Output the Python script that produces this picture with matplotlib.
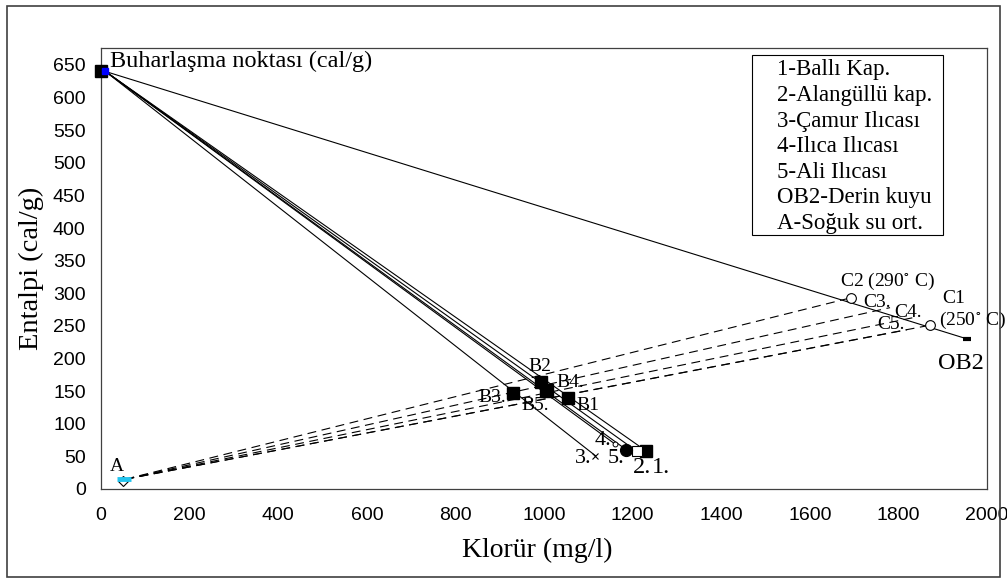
import matplotlib
matplotlib.use('Agg')
import matplotlib.pyplot as plt
from matplotlib.patches import Rectangle

plt.rcParams['mathtext.fontset'] = 'stix'

# evaporation point (cal/g) and the two end members
evap_x, evap_y = 10, 640
ob2_x, ob2_y = 1955, 230
a_x, a_y = 50, 13

# springs 1..5
spring_names = ['1', '2', '3', '4', '5']
spring_x = [1231, 1209, 1116, 1160, 1186]
spring_y = [58, 58, 51, 69, 60]

# intersection points B1..B5
b_names = ['B1', 'B2', 'B3', 'B4', 'B5']
b_x = [1053, 994, 929, 1006, 1004]
b_y = [140, 164, 147, 152, 150]

# reservoir points C1..C5 on the evaporation-OB2 line
c_names = ['C1', 'C2', 'C3', 'C4', 'C5']
c_x = [1871, 1692, 1781, 1843, 1819]
c_y = [251, 293, 278, 264, 244]

legend_lines = ['1-Ballı Kap.', '2-Alangüllü kap.', '3-Çamur Ilıcası',
                '4-Ilıca Ilıcası', '5-Ali Ilıcası', 'OB2-Derin kuyu',
                'A-Soğuk su ort.']

serif = 'Liberation Serif'
sans = 'Liberation Sans'

fig = plt.figure(figsize=(10.07, 5.78), dpi=100)
ax = fig.add_axes([0.1003, 0.154, 0.8799, 0.763])

# solid mixing lines from the evaporation point
for sx, sy in zip(spring_x, spring_y):
    ax.plot([evap_x, sx], [evap_y, sy], color='black', lw=0.8, zorder=2)
ax.plot([evap_x, ob2_x], [evap_y, ob2_y], color='black', lw=0.8, zorder=2)

# dashed lines from cold water through B points to C points
for cx, cy in zip(c_x, c_y):
    ax.plot([a_x + 5, cx], [a_y + 2, cy], color='black', lw=0.8,
            dashes=(8, 5), zorder=2)

# markers
ax.plot(evap_x - 10, evap_y, marker='s', ms=9, color='black', ls='none',
        zorder=4, clip_on=False)
ax.plot(evap_x, evap_y, marker='s', ms=4.2, color='#0000ff', mec='#0000ff',
        ls='none', zorder=5)
ax.plot(ob2_x, ob2_y, marker='_', ms=6, mew=3, color='black', ls='none', zorder=4)
ax.plot(a_x, a_y, marker='D', ms=5, mfc='white', mec='black', mew=0.8,
        ls='none', zorder=4)
ax.plot(a_x + 3, a_y + 2, marker='_', ms=10, mew=3.5, color='#22c4ee',
        ls='none', zorder=5)
ax.plot(b_x, b_y, marker='s', ms=8.5, color='black', ls='none', zorder=4)
ax.plot(c_x[:2], c_y[:2], marker='o', ms=7, mfc='white', mec='black', mew=0.8,
        ls='none', zorder=4)

# springs with their own markers
ax.plot(spring_x[0], spring_y[0], marker='s', ms=8.5, color='black', ls='none', zorder=4)
ax.plot(spring_x[1], spring_y[1], marker='s', ms=7.5, mfc='white', mec='black',
        mew=0.8, ls='none', zorder=4)
ax.plot(spring_x[2], spring_y[2], marker='x', ms=4.5, color='black', mew=0.8,
        ls='none', zorder=4)
ax.plot(spring_x[3], spring_y[3], marker='o', ms=3.5, mfc='white', mec='black',
        mew=0.7, ls='none', zorder=4)
ax.plot(spring_x[4], spring_y[4], marker='o', ms=8.5, color='black', ls='none', zorder=4)

# point labels
lab = dict(family=serif, fontsize=14, ha='center', va='center', zorder=6)
ax.text(20, 655, 'Buharlaşma noktası (cal/g)', family=serif, fontsize=17.5,
        ha='left', va='center')
ax.text(36, 34, 'A', **lab)
ax.text(990, 188, 'B2', **lab)
ax.text(1058, 163, 'B4.', **lab)
ax.text(884, 141, 'B3.', **lab)
ax.text(981, 128, 'B5.', **lab)
ax.text(1098, 128, 'B1', **lab)
ax.text(1132, 75, '4.', family=serif, fontsize=16, ha='center', va='center')
ax.text(1089, 47, '3.', family=serif, fontsize=16, ha='center', va='center')
ax.text(1162, 47, '5.', family=serif, fontsize=16, ha='center', va='center')
ax.text(1222, 33, '2.', family=serif, fontsize=17.5, ha='center', va='center')
ax.text(1264, 33, '1.', family=serif, fontsize=17.5, ha='center', va='center')
ax.text(1776, 318, 'C2 (290$^{\\circ}$ C)', **lab)
ax.text(1752, 286, 'C3.', **lab)
ax.text(1822, 271, 'C4.', **lab)
ax.text(1782, 252, 'C5.', **lab)
ax.text(1925, 292, 'C1', **lab)
ax.text(1968, 258, '(250$^{\\circ}$ C)', clip_on=False, **lab)
ax.text(1941, 192, 'OB2', family=serif, fontsize=17.5, ha='center', va='center')

ax.set_xlim(0, 2000)
ax.set_ylim(0, 676)
ax.set_xticks(range(0, 2001, 200))
ax.set_yticks(range(0, 651, 50))
ax.tick_params(length=0, labelsize=14)
ax.tick_params(axis='x', pad=13)
ax.tick_params(axis='y', pad=11)
for t in ax.get_xticklabels() + ax.get_yticklabels():
    t.set_family(sans)
for s in ax.spines.values():
    s.set_color('#404040')
    s.set_linewidth(0.9)

# legend box
fig.add_artist(Rectangle((752 / 1007, 1 - 235 / 578), 191 / 1007, 180 / 578,
                         transform=fig.transFigure, fill=False,
                         ec='black', lw=0.8))
for i, line in enumerate(legend_lines):
    fig.text(777 / 1007, 1 - (70 + i * 25.5) / 578, line, family=serif,
             fontsize=16.5, ha='left', va='center')

fig.text(537 / 1007, 1 - 550 / 578, 'Klorür (mg/l)', family=serif,
         fontsize=20, ha='center', va='center')
fig.text(31 / 1007, 1 - 268 / 578, 'Entalpi (cal/g)', family=serif,
         fontsize=20.5, ha='center', va='center', rotation=90)

# outer chart frame
fig.add_artist(Rectangle((7 / 1007, 1 / 578), 993 / 1007, 571 / 578,
                         transform=fig.transFigure, fill=False,
                         ec='#404040', lw=1.2))

fig.savefig('out.png', dpi=100)
